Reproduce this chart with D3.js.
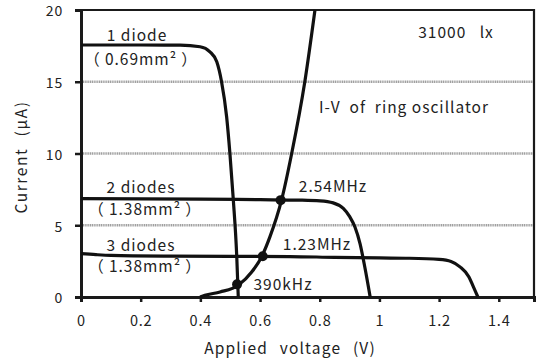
<!DOCTYPE html>
<html>
<head>
<meta charset="utf-8">
<script src="https://cdn.jsdelivr.net/npm/d3@7"></script>
<style>
  html, body { margin: 0; padding: 0; background: #fff; }
  svg text { font-family: "Noto Sans CJK JP", "Noto Sans", sans-serif; fill: #222; }
</style>
</head>
<body>
<div id="chart"></div>
<script>
// I-V curves of the photodiode stacks (V, µA)
const oneDiode = [[0, 17.56], [0.2, 17.56], [0.332, 17.55], [0.399, 17.44], [0.432, 17.09], [0.455, 16.39],
  [0.471, 15.0], [0.488, 12.56], [0.499, 10.0], [0.510, 6.89], [0.522, 2.79], [0.527, 0]];
const twoDiodes = [[0, 6.85], [0.4, 6.82], [0.6, 6.78], [0.73, 6.75], [0.801, 6.70], [0.845, 6.56],
  [0.879, 6.17], [0.901, 5.58], [0.918, 4.88], [0.935, 3.72], [0.951, 2.09], [0.969, 0]];
const threeDiodes = [[0, 3.02], [0.05, 2.95], [0.1, 2.9], [0.3, 2.85], [0.7, 2.82], [0.85, 2.76],
  [1.0, 2.72], [1.1, 2.7], [1.2, 2.62], [1.24, 2.48], [1.27, 2.1], [1.3, 1.4], [1.315, 0.7], [1.33, 0]];
// ring oscillator load curve
const ringOsc = [[0.399, 0], [0.415, 0.12], [0.466, 0.35], [0.527, 0.82], [0.572, 1.74], [0.605, 2.79],
  [0.633, 4.19], [0.672, 6.75], [0.706, 10.0], [0.750, 15.0], [0.784, 20.0]];
// operating points
const opPoints = [
  { v: 0.523, i: 0.88, label: '390kHz' },
  { v: 0.609, i: 2.84, label: '1.23MHz' },
  { v: 0.669, i: 6.75, label: '2.54MHz' }
];
const xTicks = [0, 0.2, 0.4, 0.6, 0.8, 1, 1.2, 1.4];
const yTicks = [0, 5, 10, 15, 20];
const gridValues = [5, 10, 15];

const width = 541, height = 362;
const margin = { top: 10, right: 7, bottom: 65, left: 81 };

const svg = d3.select('#chart').append('svg')
  .attr('width', width)
  .attr('height', height);

const x = d3.scaleLinear().domain([0, 1.518]).range([margin.left, width - margin.right]);
const y = d3.scaleLinear().domain([0, 20]).range([height - margin.bottom, margin.top]);

// gridlines
svg.append('g')
  .selectAll('line')
  .data(gridValues)
  .enter()
  .append('line')
  .attr('x1', x(0)).attr('x2', x(1.518))
  .attr('y1', d => y(d)).attr('y2', d => y(d))
  .attr('stroke', '#a0a0a0')
  .attr('stroke-width', 2.5)
  .attr('stroke-dasharray', '1.2 0.6');

// frame (top + right)
svg.append('path')
  .attr('d', `M${x(0)},${y(20)}H${x(1.518)}V${y(0)}`)
  .attr('fill', 'none')
  .attr('stroke', '#1a1a1a')
  .attr('stroke-width', 2.2);

// X axis
const xAxis = svg.append('g')
  .attr('transform', `translate(0,${y(0)})`)
  .call(d3.axisBottom(x).tickValues(xTicks).tickSize(5).tickPadding(14).tickFormat(d => String(d)));
xAxis.select('.domain').attr('stroke', '#1a1a1a').attr('stroke-width', 3);
xAxis.selectAll('.tick line').attr('stroke', '#1a1a1a').attr('stroke-width', 2.5);
xAxis.selectAll('text').style('font-size', '14.5px').style('letter-spacing', '0.8px').style('fill', '#222');

// Y axis
const yAxis = svg.append('g')
  .attr('transform', `translate(${x(0)},0)`)
  .call(d3.axisLeft(y).tickValues(yTicks).tickSize(6).tickPadding(12));
yAxis.select('.domain').attr('stroke', '#1a1a1a').attr('stroke-width', 3);
yAxis.selectAll('.tick line').attr('stroke', '#1a1a1a').attr('stroke-width', 2.5);
yAxis.selectAll('text')
  .attr('dy', '0.42em')
  .style('font-size', '14px')
  .style('letter-spacing', '0.8px')
  .style('fill', '#222');

// axis titles
svg.append('text')
  .attr('x', 290).attr('y', 354)
  .attr('text-anchor', 'middle')
  .style('font-size', '15.5px')
  .style('letter-spacing', '1.2px')
  .style('word-spacing', '7px')
  .text('Applied voltage  (V)');

svg.append('text')
  .attr('transform', 'translate(27,157) rotate(-90)')
  .attr('text-anchor', 'middle')
  .style('font-size', '15.5px')
  .style('letter-spacing', '1.6px')
  .style('word-spacing', '6px')
  .text('Current (μA)');

// curves
const line = d3.line()
  .x(d => x(d[0]))
  .y(d => y(d[1]))
  .curve(d3.curveMonotoneX);

[oneDiode, twoDiodes, threeDiodes, ringOsc].forEach(series => {
  svg.append('path')
    .datum(series)
    .attr('d', line)
    .attr('fill', 'none')
    .attr('stroke', '#111')
    .attr('stroke-width', 3.2)
    .attr('stroke-linejoin', 'round');
});

// operating point markers
svg.selectAll('circle.op')
  .data(opPoints)
  .enter()
  .append('circle')
  .attr('class', 'op')
  .attr('cx', d => x(d.v))
  .attr('cy', d => y(d.i))
  .attr('r', 5)
  .attr('fill', '#111');

// labels
const labels = [
  { t: '1 diode', x: 137, y: 41 },
  { t: '（\u20090.69mm²\u2009）', x: 141, y: 65 },
  { t: '2 diodes', x: 141, y: 193 },
  { t: '（\u20091.38mm²\u2009）', x: 145, y: 215 },
  { t: '3 diodes', x: 141, y: 251 },
  { t: '（\u20091.38mm²\u2009）', x: 145, y: 272 },
  { t: '2.54MHz', x: 333, y: 192 },
  { t: '1.23MHz', x: 317, y: 250 },
  { t: '390kHz', x: 283, y: 290 },
  { t: '31000\u00a0\u00a0\u00a0lx', x: 456, y: 38 },
  { t: 'I-V\u00a0 of\u00a0 ring oscillator', x: 404, y: 113 }
];
svg.selectAll('text.lbl')
  .data(labels)
  .enter()
  .append('text')
  .attr('class', 'lbl')
  .attr('x', d => d.x)
  .attr('y', d => d.y)
  .attr('text-anchor', 'middle')
  .style('font-size', '15.5px')
  .style('letter-spacing', '1px')
  .text(d => d.t);
</script>
</body>
</html>
